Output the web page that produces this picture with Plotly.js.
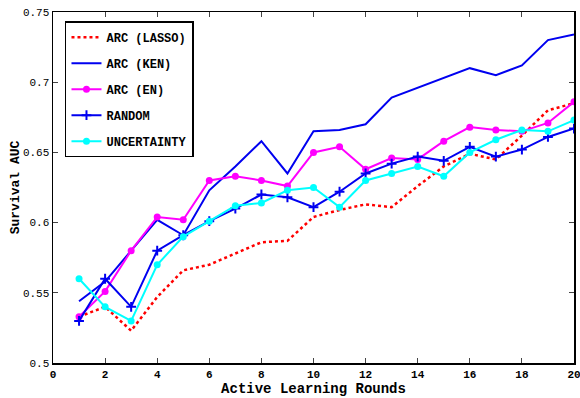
<!DOCTYPE html>
<html><head><meta charset="utf-8">
<script src="https://cdn.plot.ly/plotly-3.0.1.min.js"></script>
<style>html,body{margin:0;padding:0;background:#fff}#chart{width:580px;height:398px}</style>
</head><body><div id="chart"></div>
<script>
const rounds = [1,2,3,4,5,6,7,8,9,10,11,12,13,14,15,16,17,18,19,20];
const arcLasso = [0.533,0.540,0.523,0.547,0.566,0.570,0.578,0.586,0.587,0.604,0.609,0.613,0.611,0.626,0.640,0.649,0.645,0.662,0.680,0.685];
const arcKen = [0.544,0.558,0.580,0.602,0.591,0.623,0.640,0.658,0.635,0.665,0.666,0.670,0.689,0.696,0.703,0.710,0.705,0.712,0.730,0.734];
const arcEn = [0.533,0.551,0.580,0.604,0.602,0.630,0.633,0.630,0.626,0.650,0.654,0.638,0.646,0.645,0.658,0.668,0.666,0.665,0.671,0.686];
const randomV = [0.530,0.560,0.540,0.580,0.591,0.601,0.610,0.620,0.618,0.611,0.622,0.635,0.642,0.647,0.644,0.654,0.647,0.652,0.661,0.667];
const uncert = [0.560,0.540,0.530,0.570,0.590,0.601,0.612,0.614,0.623,0.625,0.611,0.630,0.635,0.640,0.633,0.650,0.659,0.666,0.665,0.673];
const xTicks = [0,2,4,6,8,10,12,14,16,18,20];
const yTicks = [0.5,0.55,0.6,0.65,0.7,0.75];
const yTickText = ['0.5','0.55','0.6','0.65','0.7','0.75'];

const F = 'Liberation Mono, Courier New, monospace';
const traces = [
  {x: rounds, y: arcLasso, name: 'ARC (LASSO)', mode: 'lines', line: {color: '#ff0000', width: 2.5, dash: 'dot'}, legendgroup: 'a'},
  {x: rounds, y: arcKen, name: 'ARC (KEN)', mode: 'lines', line: {color: '#0000f0', width: 2}, legendgroup: 'b'},
  {x: rounds, y: arcEn, name: 'ARC (EN)', mode: 'lines+markers', line: {color: '#ff00ff', width: 2}, marker: {symbol: 'circle', size: 7, color: '#ff00ff'}, legendgroup: 'c'},
  {x: rounds, y: randomV, name: 'RANDOM', mode: 'lines+markers', line: {color: '#0000f0', width: 2}, marker: {symbol: 'cross-thin', size: 7, line: {color: '#0000f0', width: 2}}, legendgroup: 'd'},
  {x: rounds, y: uncert, name: 'UNCERTAINTY', mode: 'lines+markers', line: {color: '#00ffff', width: 2}, marker: {symbol: 'circle', size: 7, color: '#00ffff'}, legendgroup: 'e'}
];
const layout = {
  width: 580, height: 398,
  margin: {l: 53, r: 6, t: 12, b: 35},
  paper_bgcolor: '#fff', plot_bgcolor: '#fff',
  font: {family: F, color: '#000', size: 10},
  showlegend: true,
  legend: {x: 0.023, y: 0.974, xanchor: 'left', yanchor: 'top', bordercolor: '#000', borderwidth: 1.5, bgcolor: '#fff',
           font: {family: F, size: 12, color: '#000', weight: 'bold'}, tracegroupgap: 7, itemwidth: 30},
  xaxis: {range: [0, 20], tickvals: xTicks, ticktext: xTicks.map(String), ticks: 'inside', ticklen: 5, tickwidth: 1,
          showline: true, linecolor: '#000', linewidth: 1.5, mirror: 'ticks', showgrid: false, zeroline: false,
          ticklabeloverflow: 'allow',
          tickfont: {family: F, size: 11, weight: 'bold'},
          title: {text: 'Active Learning Rounds', font: {family: F, size: 14, weight: 'bold'}, standoff: 0}},
  yaxis: {range: [0.5, 0.75], tickvals: yTicks, ticktext: yTickText, ticks: 'inside', ticklen: 5, tickwidth: 1,
          showline: true, linecolor: '#000', linewidth: 1.5, mirror: 'ticks', showgrid: false, zeroline: false,
          ticklabeloverflow: 'allow',
          tickfont: {family: F, size: 11},
          title: {text: 'Survival AUC', font: {family: F, size: 13, weight: 'bold'}, standoff: 0}}
};
Plotly.newPlot('chart', traces, layout, {displayModeBar: false, staticPlot: true});
</script></body></html>
